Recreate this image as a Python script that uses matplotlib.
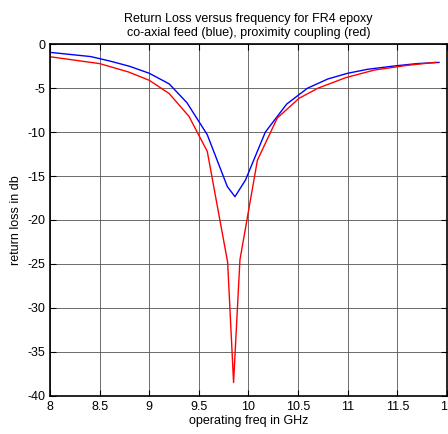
import matplotlib
matplotlib.use("Agg")
import matplotlib.pyplot as plt

plt.rcParams['font.family'] = ['Liberation Sans', 'DejaVu Sans']
plt.rcParams['axes.unicode_minus'] = False

# coaxial feed (blue)
f_coax = [8.0, 8.41, 8.6, 8.8, 9.0, 9.2, 9.38, 9.585, 9.787, 9.864, 9.97,
          10.17, 10.386, 10.595, 10.8, 11.0, 11.2, 11.47, 11.7, 11.92]
rl_coax = [-0.92, -1.4, -1.9, -2.5, -3.3, -4.5, -6.65, -10.3, -16.2, -17.35, -15.45,
           -10.0, -6.8, -5.0, -3.95, -3.3, -2.85, -2.47, -2.2, -2.07]

# proximity coupling (red)
f_prox = [8.0, 8.5, 8.79, 9.0, 9.2, 9.4, 9.585, 9.79, 9.85, 9.914,
          10.09, 10.29, 10.51, 10.7, 10.98, 11.27, 11.6, 11.89]
rl_prox = [-1.42, -2.2, -3.15, -4.1, -5.6, -8.2, -12.2, -24.8, -38.5, -24.55,
           -13.2, -8.4, -6.15, -5.0, -3.8, -2.93, -2.4, -2.05]

fig = plt.figure(figsize=(4.48, 4.34), dpi=100)
ax = fig.add_axes([0.1116, 0.0883, 0.886, 0.8097])

ax.plot(f_coax, rl_coax, color='blue', linewidth=1)
ax.plot(f_prox, rl_prox, color='red', linewidth=1)

ax.set_xlim(8, 12)
ax.set_ylim(-40, 0)
ax.set_xticks([8, 8.5, 9, 9.5, 10, 10.5, 11, 11.5, 12])
ax.set_xticklabels(['8', '8.5', '9', '9.5', '10', '10.5', '11', '11.5', '12'])
ax.set_yticks(range(-40, 1, 5))
ax.grid(True, color='#555555', linewidth=0.6)
ax.tick_params(direction='in', top=True, right=True, labelsize=9, length=4)
for s in ax.spines.values():
    s.set_linewidth(1.2)

ax.set_title('Return Loss versus frequency for FR4 epoxy\nco-axial feed (blue), proximity coupling (red)',
             fontsize=9, pad=6)
ax.set_xlabel('operating freq in GHz', fontsize=9, labelpad=2)
ax.set_ylabel('return loss in db', fontsize=9, labelpad=4)

fig.savefig('out.png', dpi=100)
